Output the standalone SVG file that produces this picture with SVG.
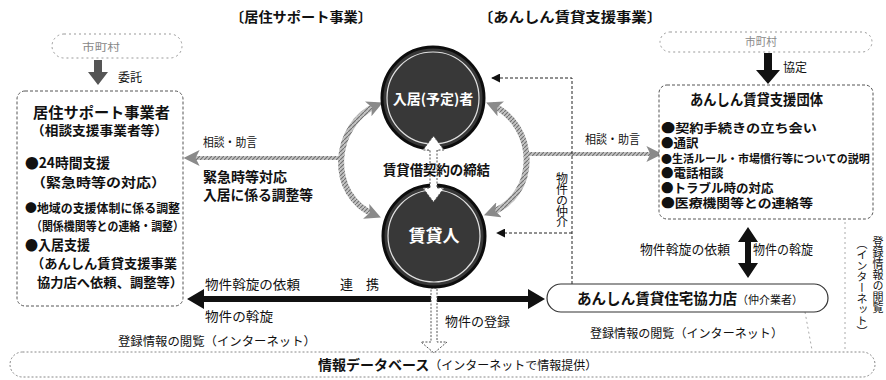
<svg xmlns="http://www.w3.org/2000/svg" width="886" height="380" viewBox="0 0 886 380">
<defs>
<style>
text{font-family:"Noto Sans CJK JP","Noto Sans",sans-serif;fill:#111}
.b{font-weight:700}
.r{font-weight:400}
.box{fill:#fff;stroke:#555;stroke-width:1;stroke-dasharray:3 2}
.pill{fill:#fff;stroke:#999;stroke-width:1;stroke-dasharray:2 3}
.faint{fill:none;stroke:#aaa;stroke-width:1;stroke-dasharray:2 3}
.thin{fill:none;stroke:#222;stroke-width:1;stroke-dasharray:3 2}
.gray{fill:none;stroke:url(#hatch);stroke-width:6}
.grayh{fill:none;stroke:url(#hatch);stroke-width:4}
.blk{fill:#111}
.wa{fill:#fff;stroke:#555;stroke-width:1;stroke-dasharray:2 1.5}
.circ{fill:#383838;stroke:#0d0d0d;stroke-width:3}
.ring{fill:none;stroke:#fff;stroke-width:1.2;opacity:.85}
.wt{fill:#fff;font-weight:700}
.gt{fill:#888}
.it{font-weight:700;font-size:12.5px}
</style>
<pattern id="hatch" patternUnits="userSpaceOnUse" width="4" height="4"><rect width="4" height="4" fill="#c4c4c4"/><path d="M-1,5 L5,-1" stroke="#6f6f6f" stroke-width="1.1"/></pattern>
<marker id="ah" viewBox="0 0 10 10" refX="9" refY="5" markerWidth="9" markerHeight="9" markerUnits="userSpaceOnUse" orient="auto"><path d="M0,0 L10,5 L0,10 Z" fill="#111"/></marker>
<marker id="gh" viewBox="0 0 10 10" refX="6" refY="5" markerWidth="16" markerHeight="16" markerUnits="userSpaceOnUse" orient="auto-start-reverse"><path d="M0,0 L10,5 L0,10 L2.5,5 Z" fill="#8a8a8a"/></marker>
</defs>
<rect width="886" height="380" fill="#fff"/>

<g id="headers">
<text class="b" x="230" y="22" font-size="14" textLength="142" lengthAdjust="spacingAndGlyphs">〔居住サポート事業〕</text>
<text class="b" x="478" y="22" font-size="14" textLength="184" lengthAdjust="spacingAndGlyphs">〔あんしん賃貸支援事業〕</text>
</g>

<g id="connectors">
<path class="gray" d="M377,105 C332,125 327,195 375,215" marker-start="url(#gh)" marker-end="url(#gh)"/>
<path class="gray" d="M492,105 C537,125 540,195 490,213" marker-start="url(#gh)" marker-end="url(#gh)"/>
<path class="grayh" d="M340,158 H190" marker-end="url(#gh)"/>
<path class="grayh" d="M527,154 H656" marker-end="url(#gh)"/>
<path class="thin" d="M572,284 V78 H492" marker-end="url(#ah)"/>
<path class="thin" d="M572,233 H497" marker-end="url(#ah)"/>
<path class="faint" d="M845,222 V350"/>
<path class="faint" d="M805,312 L812,350"/>
<polygon class="blk" points="187,299 204,289 204,296 528,296 528,289 545,299 528,309 528,302 204,302 204,309"/>
<polygon class="blk" points="748,227 758,242 751,242 751,263 758,263 748,278 738,263 745,263 745,242 738,242"/>
<polygon class="blk" points="764,53 772,53 772,70 780,70 768,84 756,70 764,70"/>
<polygon fill="#555" points="94,60 102,60 102,72 108,72 98,85 88,72 94,72"/>
<polygon class="wa" points="431,288 437,288 437,342 447,342 434,353 421,342 431,342"/>
<text class="r" x="118" y="82" font-size="12" fill="#444">委託</text>
<text class="r" x="783" y="72" font-size="12">協定</text>
<text class="r" x="203" y="147" font-size="12" textLength="54" lengthAdjust="spacingAndGlyphs">相談・助言</text>
<text class="r" x="585" y="144" font-size="12" textLength="55" lengthAdjust="spacingAndGlyphs">相談・助言</text>
<text class="b" x="203" y="182" font-size="14" textLength="84" lengthAdjust="spacingAndGlyphs">緊急時等対応</text>
<text class="b" x="203" y="200" font-size="14" textLength="110" lengthAdjust="spacingAndGlyphs">入居に係る調整等</text>
<text class="r" x="562" y="172" font-size="12" style="writing-mode:vertical-rl" letter-spacing="-1">物件の仲介</text>
<text class="r" x="205" y="289" font-size="13" textLength="95" lengthAdjust="spacingAndGlyphs">物件斡旋の依頼</text>
<text class="r" x="340" y="289" font-size="13">連　携</text>
<text class="r" x="205" y="321" font-size="13" textLength="68" lengthAdjust="spacingAndGlyphs">物件の斡旋</text>
<text class="r" x="445" y="326" font-size="13" textLength="65" lengthAdjust="spacingAndGlyphs">物件の登録</text>
<text class="r" x="640" y="254" font-size="13" textLength="90" lengthAdjust="spacingAndGlyphs">物件斡旋の依頼</text>
<text class="r" x="753" y="254" font-size="13" textLength="60" lengthAdjust="spacingAndGlyphs">物件の斡旋</text>
<text class="r" x="118" y="346" font-size="12" textLength="198" lengthAdjust="spacingAndGlyphs" fill="#333">登録情報の閲覧（インターネット）</text>
<text class="r" x="590" y="338" font-size="12" textLength="193" lengthAdjust="spacingAndGlyphs" fill="#333">登録情報の閲覧（インターネット）</text>
<text class="r" x="878" y="236" font-size="11" fill="#333" style="writing-mode:vertical-rl">登録情報の閲覧</text>
<text class="r" x="862" y="238" font-size="11" fill="#555" style="writing-mode:vertical-rl">（インターネット）</text>
</g>

<g id="city-left">
<rect class="pill" x="52" y="34" width="130" height="24" rx="12"/>
<text class="r gt" x="82" y="51" font-size="10" textLength="38" lengthAdjust="spacingAndGlyphs">市町村</text>
</g>

<g id="support-org">
<rect class="box" x="17" y="91" width="166" height="215" rx="8"/>
<text class="b" x="33" y="118" font-size="15" textLength="137" lengthAdjust="spacingAndGlyphs">居住サポート事業者</text>
<text class="b" x="31" y="135" font-size="13" textLength="137" lengthAdjust="spacingAndGlyphs">（相談支援事業者等）</text>
<text class="b" x="25" y="168" font-size="14" textLength="85" lengthAdjust="spacingAndGlyphs">●24時間支援</text>
<text class="b" x="31" y="187" font-size="13" textLength="135" lengthAdjust="spacingAndGlyphs">（緊急時等の対応）</text>
<text class="b" x="25" y="213" font-size="12" textLength="155" lengthAdjust="spacingAndGlyphs">●地域の支援体制に係る調整</text>
<text class="b" x="31" y="231" font-size="12" textLength="153" lengthAdjust="spacingAndGlyphs">（関係機関等との連絡・調整）</text>
<text class="b" x="25" y="250" font-size="14" textLength="65" lengthAdjust="spacingAndGlyphs">●入居支援</text>
<text class="b" x="31" y="268" font-size="13" textLength="146" lengthAdjust="spacingAndGlyphs">（あんしん賃貸支援事業</text>
<text class="b" x="37" y="287" font-size="13" textLength="146" lengthAdjust="spacingAndGlyphs">協力店へ依頼、調整等）</text>
</g>

<g id="tenant">
<circle class="circ" cx="433" cy="98" r="51"/>
<circle class="ring" cx="433" cy="98" r="46"/>
</g>

<g id="landlord">
<circle class="circ" cx="434" cy="236" r="51"/>
<circle class="ring" cx="434" cy="236" r="46"/>
</g>

<g id="contract">
<polygon class="wa" points="433.5,136 444,150 437,150 437,188 444,188 433.5,202 423,188 430,188 430,150 423,150"/>
<text class="b" x="383" y="175" font-size="14" textLength="107" lengthAdjust="spacingAndGlyphs">賃貸借契約の締結</text>
</g>

<g id="circle-labels">
<text class="wt" x="433" y="104" font-size="14" text-anchor="middle">入居(予定)者</text>
<text class="wt" x="434" y="242" font-size="17" text-anchor="middle">賃貸人</text>
</g>

<g id="city-right">
<rect class="pill" x="660" y="32" width="212" height="20" rx="10"/>
<text class="r gt" x="745" y="46" font-size="11" textLength="32" lengthAdjust="spacingAndGlyphs" fill="#666">市町村</text>
</g>

<g id="anshin-org">
<rect class="box" x="659" y="85" width="214" height="134" rx="8"/>
<text class="b" x="690" y="105" font-size="15" textLength="133" lengthAdjust="spacingAndGlyphs">あんしん賃貸支援団体</text>
<text class="it" x="661" y="133" textLength="156" lengthAdjust="spacingAndGlyphs">●契約手続きの立ち会い</text>
<text class="it" x="661" y="148">●通訳</text>
<text class="b" x="661" y="163" font-size="11">●生活ルール・市場慣行等についての説明</text>
<text class="it" x="661" y="178">●電話相談</text>
<text class="it" x="661" y="193">●トラブル時の対応</text>
<text class="it" x="661" y="208" textLength="152" lengthAdjust="spacingAndGlyphs">●医療機関等との連絡等</text>
</g>

<g id="partner-shop">
<rect x="547" y="284" width="281" height="28" rx="14" fill="#fff" stroke="#333" stroke-width="1.2"/>
<text x="577" y="304"><tspan class="b" font-size="15" textLength="160" lengthAdjust="spacingAndGlyphs">あんしん賃貸住宅協力店</tspan><tspan class="r" font-size="11">（仲介業者）</tspan></text>
</g>

<g id="database">
<rect x="10" y="352" width="865" height="25" rx="12.5" fill="none" stroke="#888" stroke-width="1" stroke-dasharray="2 2"/>
<text x="318" y="370"><tspan class="b" font-size="14">情報データベース</tspan><tspan class="r" font-size="12">（インターネットで情報提供）</tspan></text>
</g>
</svg>
